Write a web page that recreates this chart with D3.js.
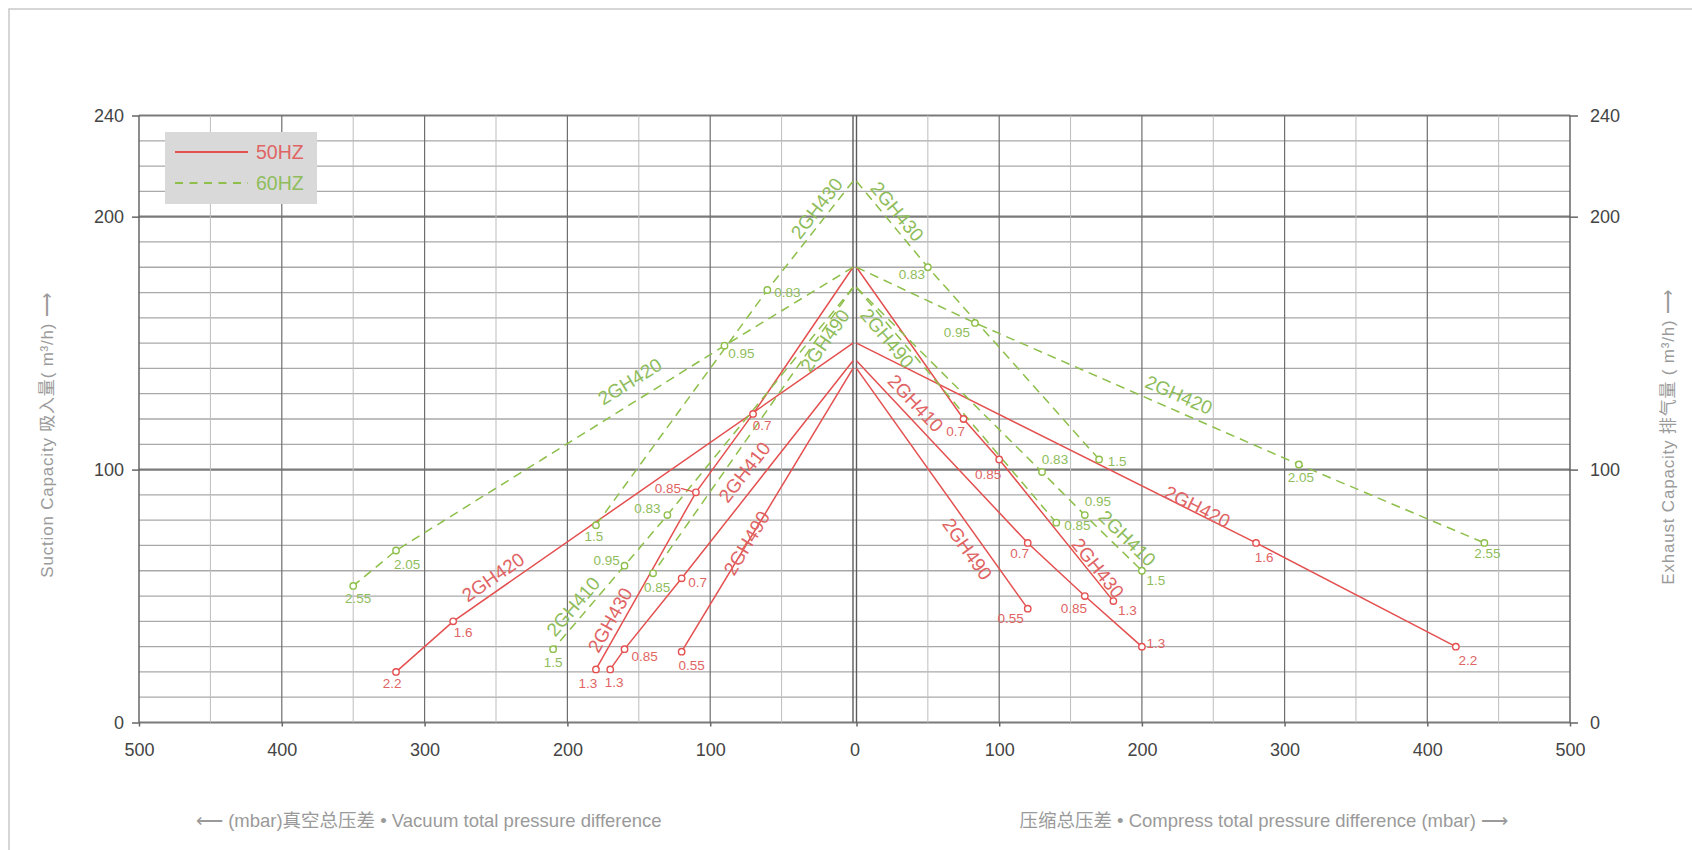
<!DOCTYPE html>
<html>
<head>
<meta charset="utf-8">
<script src="https://cdn.jsdelivr.net/npm/d3@7"></script>
<style>
  html, body { margin: 0; padding: 0; background: #ffffff; }
  svg { display: block; font-family: "Liberation Sans", Arial, "Noto Sans CJK SC", sans-serif; }
</style>
</head>
<body>
<script>
// ---------------- DATA ----------------
const pressureTicks = [0, 100, 200, 300, 400, 500];      // mbar
const capacityTicks = [0, 100, 200, 240];                // m³/h
const legendItems = ["50HZ", "60HZ"];

// vacuum side (left), 50 Hz: pressure difference (mbar), capacity (m³/h), motor power label (kW)
const vacuum50 = [
  { model: "2GH410", p: [0, 120, 160, 170], q: [143, 57, 29, 21], kw: [null, "0.7", "0.85", "1.3"] },
  { model: "2GH420", p: [0, 280, 320],      q: [150, 40, 20],     kw: [null, "1.6", "2.2"] },
  { model: "2GH430", p: [0, 70, 110, 180],  q: [180, 122, 91, 21], kw: [null, "0.7", "0.85", "1.3"] },
  { model: "2GH490", p: [0, 120],           q: [140, 28],          kw: [null, "0.55"] }
];
// compress side (right), 50 Hz
const compress50 = [
  { model: "2GH410", p: [0, 120, 160, 200], q: [143, 71, 50, 30],  kw: [null, "0.7", "0.85", "1.3"] },
  { model: "2GH420", p: [0, 280, 420],      q: [150, 71, 30],      kw: [null, "1.6", "2.2"] },
  { model: "2GH430", p: [0, 75, 100, 180],  q: [180, 120, 104, 48], kw: [null, "0.7", "0.85", "1.3"] },
  { model: "2GH490", p: [0, 120],           q: [140, 45],          kw: [null, "0.55"] }
];
// vacuum side (left), 60 Hz
const vacuum60 = [
  { model: "2GH410", p: [0, 130, 160, 210], q: [172, 82, 62, 29],  kw: [null, "0.83", "0.95", "1.5"] },
  { model: "2GH420", p: [0, 90, 320, 350],  q: [180, 149, 68, 54], kw: [null, "0.95", "2.05", "2.55"] },
  { model: "2GH430", p: [0, 60, 180],       q: [214, 171, 78],     kw: [null, "0.83", "1.5"] },
  { model: "2GH490", p: [0, 140],           q: [172, 59],          kw: [null, "0.85"] }
];
// compress side (right), 60 Hz
const compress60 = [
  { model: "2GH410", p: [0, 130, 160, 200], q: [172, 99, 82, 60],  kw: [null, "0.83", "0.95", "1.5"] },
  { model: "2GH420", p: [0, 83, 310, 440],  q: [180, 158, 102, 71], kw: [null, "0.95", "2.05", "2.55"] },
  { model: "2GH430", p: [0, 50, 170],       q: [214, 180, 104],    kw: [null, "0.83", "1.5"] },
  { model: "2GH490", p: [0, 140],           q: [172, 79],          kw: [null, "0.85"] }
];

// ---------------- LAYOUT (annotation placement) ----------------
// model-name label centres, in data units [mbar, m³/h]
const modelLabelAt = {
  "50-V-2GH410": [76, 99],    "50-V-2GH420": [252, 57.4], "50-V-2GH430": [170, 40.5], "50-V-2GH490": [74.4, 70.9],
  "50-C-2GH410": [41.3, 126.2], "50-C-2GH420": [238.8, 85.3], "50-C-2GH430": [169.1, 61], "50-C-2GH490": [77.6, 68.6],
  "60-V-2GH410": [195.9, 45.8], "60-V-2GH420": [156.2, 134.8], "60-V-2GH430": [25.4, 203.3], "60-V-2GH490": [19.6, 151],
  "60-C-2GH410": [189.7, 72.8], "60-C-2GH420": [225.9, 129.5], "60-C-2GH430": [28.5, 202], "60-C-2GH490": [21.5, 151.9]
};
// point-label offsets from the marker, in px [dx, dy]
const pointLabelOffset = {
  "50-V-2GH430-0.7": [9, 12], "50-V-2GH430-0.85": [-28, -4], "50-V-2GH430-1.3": [-8, 14],
  "50-V-2GH410-0.7": [16, 4], "50-V-2GH410-0.85": [20, 7], "50-V-2GH410-1.3": [4, 13],
  "50-V-2GH490-0.55": [10, 14],
  "50-V-2GH420-1.6": [10, 11], "50-V-2GH420-2.2": [-4, 12],
  "50-C-2GH430-0.7": [-8, 12], "50-C-2GH430-0.85": [-11, 15], "50-C-2GH430-1.3": [14, 9],
  "50-C-2GH410-0.7": [-8, 11], "50-C-2GH410-0.85": [-11, 12], "50-C-2GH410-1.3": [14, -3],
  "50-C-2GH490-0.55": [-17, 10],
  "50-C-2GH420-1.6": [8, 15], "50-C-2GH420-2.2": [12, 14],
  "60-V-2GH430-0.83": [20, 2], "60-V-2GH430-1.5": [-2, 11],
  "60-V-2GH420-0.95": [17, 8], "60-V-2GH420-2.05": [11, 14], "60-V-2GH420-2.55": [5, 13],
  "60-V-2GH410-0.83": [-20, -7], "60-V-2GH410-0.95": [-18, -5], "60-V-2GH410-1.5": [0, 13],
  "60-V-2GH490-0.85": [4, 14],
  "60-C-2GH430-0.83": [-16, 7], "60-C-2GH430-1.5": [18, 2],
  "60-C-2GH420-0.95": [-18, 10], "60-C-2GH420-2.05": [2, 13], "60-C-2GH420-2.55": [3, 11],
  "60-C-2GH410-0.83": [13, -13], "60-C-2GH410-0.95": [13, -14], "60-C-2GH410-1.5": [14, 10],
  "60-C-2GH490-0.85": [21, 3]
};
const leaderLabels = ["50-V-2GH430-0.85"];

// ---------------- STYLE ----------------
const RED = "#e44f4f", RED_TXT = "#e06464";
const GREEN = "#8dbf4a", GREEN_TXT = "#8fbd5c";

// ---------------- CHART ----------------
const W = 1692, H = 850;
const svg = d3.select("body").append("svg").attr("width", W).attr("height", H);

const xV = d3.scaleLinear().domain([0, 500]).range([853, 139]);     // vacuum (left, reversed)
const xC = d3.scaleLinear().domain([0, 500]).range([856.5, 1570]);  // compress (right)
const y = d3.scaleLinear().domain([0, 240]).range([722.5, 115.5]);

// frame
svg.append("path").attr("d", `M9,${H} L9,9 L${W},9`).attr("fill", "none")
  .attr("stroke", "#c9c9c9").attr("stroke-width", 1.5);

const grid = svg.append("g");
// horizontal grid
d3.range(0, 241, 10).forEach(v => {
  const major = capacityTicks.includes(v);
  grid.append("line").attr("x1", xV(500)).attr("x2", xC(500)).attr("y1", y(v)).attr("y2", y(v))
    .attr("stroke", major ? "#7a7a7a" : "#a9a9a9").attr("stroke-width", major ? 2.2 : 1.3);
});
// vertical grid
[xV, xC].forEach(sc => {
  d3.range(50, 500, 50).forEach(v => {
    const major = v % 100 === 0;
    grid.append("line").attr("x1", sc(v)).attr("x2", sc(v)).attr("y1", y(0)).attr("y2", y(240))
      .attr("stroke", major ? "#6e6e6e" : "#bdbdbd").attr("stroke-width", major ? 1.2 : 1);
  });
  [0, 500].forEach(v => {
    grid.append("line").attr("x1", sc(v)).attr("x2", sc(v)).attr("y1", y(0)).attr("y2", y(240))
      .attr("stroke", "#5c5c5c").attr("stroke-width", 1.4);
  });
});

// axes
function styleAxis(g) {
  g.select(".domain").remove();
  g.selectAll(".tick line").attr("stroke", "#666").attr("stroke-width", 1.5);
  g.selectAll(".tick text").attr("fill", "#444").attr("font-size", 18)
    .attr("font-family", "'Liberation Sans', Arial, sans-serif");
}
svg.append("g").attr("transform", `translate(0,${y(0)})`)
  .call(d3.axisBottom(xV).tickValues(pressureTicks.filter(d => d > 0)).tickSize(4).tickPadding(17))
  .call(styleAxis);
svg.append("g").attr("transform", `translate(0,${y(0)})`)
  .call(d3.axisBottom(xC).tickValues(pressureTicks).tickSize(4).tickPadding(17))
  .call(styleAxis)
  .selectAll(".tick text").attr("dx", d => d === 0 ? -2 : 0);
svg.append("g").attr("transform", `translate(${xV(500)},0)`)
  .call(d3.axisLeft(y).tickValues(capacityTicks).tickSize(7).tickPadding(8))
  .call(styleAxis);
svg.append("g").attr("transform", `translate(${xC(500)},0)`)
  .call(d3.axisRight(y).tickValues(capacityTicks).tickSize(8).tickPadding(12))
  .call(styleAxis);

// series
const sets = [
  { data: vacuum50, sx: xV, f: "50", side: "V" },
  { data: compress50, sx: xC, f: "50", side: "C" },
  { data: vacuum60, sx: xV, f: "60", side: "V" },
  { data: compress60, sx: xC, f: "60", side: "C" }
];
const plot = svg.append("g");
const labelsG = svg.append("g");

sets.forEach(set => {
  const col = set.f === "50" ? RED : GREEN;
  const tcol = set.f === "50" ? RED_TXT : GREEN_TXT;
  set.data.forEach(s => {
    const pts = s.p.map((p, i) => ({ p, q: s.q[i], kw: s.kw[i] }));
    const line = d3.line().x(d => set.sx(d.p)).y(d => y(d.q));
    plot.append("path").datum(pts).attr("d", line).attr("fill", "none")
      .attr("stroke", col).attr("stroke-width", 1.5)
      .attr("stroke-dasharray", set.f === "60" ? "9,6" : null);

    // markers + power labels
    pts.filter(d => d.kw).forEach(d => {
      const cx = set.sx(d.p), cy = y(d.q);
      const key = `${set.f}-${set.side}-${s.model}-${d.kw}`;
      const off = pointLabelOffset[key] || [6, 13];
      if (leaderLabels.includes(key)) {
        labelsG.append("line").attr("x1", cx).attr("y1", cy).attr("x2", cx + off[0] + 13).attr("y2", cy + off[1])
          .attr("stroke", col).attr("stroke-width", 1.2);
      }
      labelsG.append("circle").attr("cx", cx).attr("cy", cy).attr("r", 3.2)
        .attr("fill", "#fff").attr("stroke", col).attr("stroke-width", 1.4);
      labelsG.append("text").attr("x", cx + off[0]).attr("y", cy + off[1])
        .attr("text-anchor", "middle").attr("dominant-baseline", "central")
        .attr("font-size", 13.5).attr("fill", tcol).text(d.kw);
    });

    // model label, rotated along its segment
    const at = modelLabelAt[`${set.f}-${set.side}-${s.model}`];
    if (at) {
      let i = 0;
      while (i < s.p.length - 2 && at[0] > s.p[i + 1]) i++;
      const dx = set.sx(s.p[i + 1]) - set.sx(s.p[i]);
      const dy = y(s.q[i + 1]) - y(s.q[i]);
      let ang = Math.atan2(dy, dx) * 180 / Math.PI;
      if (ang > 90) ang -= 180;
      if (ang < -90) ang += 180;
      const lx = set.sx(at[0]), ly = y(at[1]);
      labelsG.append("text").attr("transform", `translate(${lx},${ly}) rotate(${ang})`)
        .attr("text-anchor", "middle").attr("dominant-baseline", "central")
        .attr("font-size", 19).attr("fill", tcol).text(s.model);
    }
  });
});

// legend
const lg = svg.append("g");
lg.append("rect").attr("x", 165).attr("y", 132).attr("width", 152).attr("height", 72).attr("fill", "#d9d9d9");
legendItems.forEach((name, i) => {
  const yy = 152 + i * 31;
  const col = i === 0 ? RED : GREEN;
  lg.append("line").attr("x1", 175).attr("x2", 248).attr("y1", yy).attr("y2", yy)
    .attr("stroke", col).attr("stroke-width", 2).attr("stroke-dasharray", i === 1 ? "8,6.5" : null);
  lg.append("text").attr("x", 256).attr("y", yy).attr("dominant-baseline", "central")
    .attr("font-size", 19.5).attr("fill", i === 0 ? RED_TXT : GREEN_TXT).text(name);
});

// axis titles
const titleCol = "#9a9a9a";
svg.append("text").attr("transform", "translate(47,435) rotate(-90)").attr("text-anchor", "middle")
  .attr("dominant-baseline", "central").attr("font-size", 17).attr("fill", titleCol)
  .attr("letter-spacing", 0.8)
  .text("Suction Capacity   吸入量( m³/h) ⟶");
svg.append("text").attr("transform", "translate(1668,437) rotate(-90)").attr("text-anchor", "middle")
  .attr("dominant-baseline", "central").attr("font-size", 17).attr("fill", titleCol)
  .attr("letter-spacing", 0.8)
  .text("Exhaust Capacity   排气量 ( m³/h) ⟶");
svg.append("text").attr("x", 196).attr("y", 820).attr("dominant-baseline", "central")
  .attr("font-size", 18.5).attr("fill", titleCol)
  .text("⟵ (mbar)真空总压差 • Vacuum total pressure difference");
svg.append("text").attr("x", 1508).attr("y", 820).attr("dominant-baseline", "central").attr("text-anchor", "end")
  .attr("font-size", 18.5).attr("fill", titleCol)
  .text("压缩总压差 • Compress total pressure difference (mbar) ⟶");
</script>
</body>
</html>
